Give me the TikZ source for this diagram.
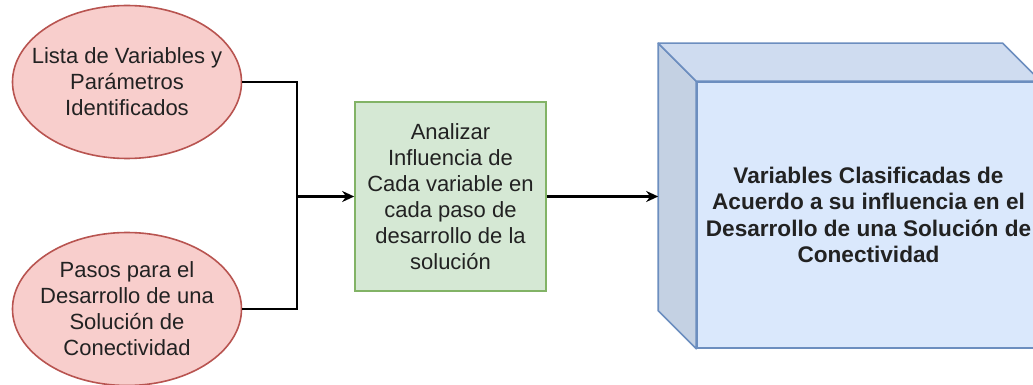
\documentclass[tikz,border=0pt]{standalone}
\usepackage{fontspec}
\setmainfont{Liberation Sans}
\usetikzlibrary{shapes.geometric, arrows.meta, calc}

\definecolor{redfill}{HTML}{F8CECC}
\definecolor{redline}{HTML}{B85450}
\definecolor{greenfill}{HTML}{D5E8D4}
\definecolor{greenline}{HTML}{82B366}
\definecolor{bluefill}{HTML}{DAE8FC}
\definecolor{bluetop}{HTML}{CFDCF0}
\definecolor{blueside}{HTML}{C4D1E3}
\definecolor{blueline}{HTML}{6C8EBF}
\definecolor{txt}{HTML}{222222}

\begin{document}
\begin{tikzpicture}[x=0.5pt, y=-0.5pt,
    font=\fontsize{11}{13}\selectfont, text=txt,
    oval/.style={ellipse, draw=redline, fill=redfill, line width=0.8pt,
      minimum width=114.5pt, minimum height=76.5pt, inner xsep=-8pt, inner ysep=0pt, align=center},
    task/.style={rectangle, draw=greenline, fill=greenfill, line width=0.8pt,
      minimum width=95.5pt, minimum height=94.5pt, inner sep=0pt, align=center},
    face/.style={rectangle, draw=blueline, fill=bluefill, line width=0.8pt,
      minimum width=171.5pt, minimum height=133pt, inner sep=0pt, align=center},
    link/.style={line width=1.1pt, -{Stealth[length=6pt, width=5.5pt]}}]
  \useasboundingbox (0,0) rectangle (1033,385);
  \clip (0,0) rectangle (1033,385);
  \node (L) [oval] at (127,82) {Lista de Variables y\\Parámetros\\Identificados};
  \node (P) [oval] at (127,309) {Pasos para el\\Desarrollo de una\\Solución de\\Conectividad};
  \node (A) [task] at (450.5,196.5) {Analizar\\Influencia de\\Cada variable en\\cada paso de\\desarrollo de la\\solución};
  \node (R) [face, font=\fontsize{11.3}{13.3}\selectfont\bfseries] at (868.5,215) {Variables Clasificadas de\\Acuerdo a su influencia en el\\Desarrollo de una Solución de\\Conectividad};
  % cube sides
  \filldraw [draw=blueline, fill=blueside, line width=0.8pt, line join=round]
    (R.north west) -- ++(-38,-38) -- ($(R.south west)+(-38,-38)$) -- (R.south west) -- cycle;
  \filldraw [draw=blueline, fill=bluetop, line width=0.8pt, line join=round]
    (R.north west) -- ++(-38,-38) -- ($(R.north east)+(-38,-38)$) -- (R.north east) -- cycle;
  \coordinate (J) at ($(A.west)+(-57,0)$);
  \coordinate (S) at ($(R.west)+(-38,0)$);
  \draw [line width=1.1pt] (L.east) -| (J);
  \draw [line width=1.1pt] (P.east) -| (J);
  \draw [link] (J) -- (A.west);
  \draw [link] (A.east) -- (A.east -| S);
\end{tikzpicture}
\end{document}
